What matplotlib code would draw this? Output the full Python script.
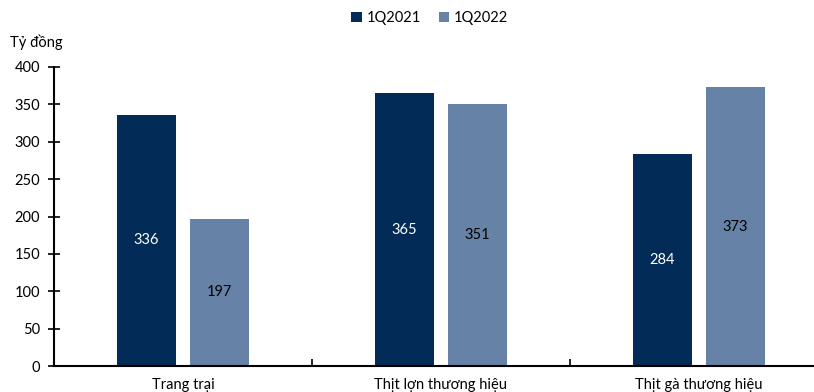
import numpy as np
import matplotlib
matplotlib.use("Agg")
import matplotlib.pyplot as plt
from matplotlib.ticker import FixedLocator

plt.rcParams['font.family'] = ['Lato', 'DejaVu Sans']

# ── data ─────────────────────────────────────────────
categories = ["Trang trại", "Thịt lợn thương hiệu", "Thịt gà thương hiệu"]
q2021 = [336, 365, 284]
q2022 = [197, 351, 373]
series_names = ["1Q2021", "1Q2022"]
dark = "#022c57"
light = "#6682a7"

fig = plt.figure(figsize=(8.14, 3.92), dpi=100)
ax = fig.add_axes([54 / 814, 26 / 392, 774 / 814, 299 / 392])

x = np.arange(len(categories)) + 0.5
w = 0.225
off = 0.1415
b1 = ax.bar(x - off, q2021, w, color=dark, label=series_names[0])
b2 = ax.bar(x + off, q2022, w, color=light, label=series_names[1])

# value labels in the middle of each bar
for rect, v in zip(b1, q2021):
    ax.text(rect.get_x() + rect.get_width() / 2, v / 2, str(v),
            ha="center", va="center", color="white", fontsize=10.5)
for rect, v in zip(b2, q2022):
    ax.text(rect.get_x() + rect.get_width() / 2, v / 2, str(v),
            ha="center", va="center", color="black", fontsize=10.5)

ax.set_xlim(0, 3)
ax.set_ylim(0, 400)
ax.set_yticks(range(0, 401, 50))
ax.set_xticks(x)
ax.set_xticklabels(categories, fontsize=10.5)
ax.xaxis.set_minor_locator(FixedLocator([1, 2]))
ax.tick_params(axis="x", which="major", length=0, pad=9)
ax.tick_params(axis="x", which="minor", direction="in", length=5, width=1.2)
ax.tick_params(axis="y", direction="inout", length=8, width=1.2, labelsize=10.5, pad=6)

for s in ["top", "right"]:
    ax.spines[s].set_visible(False)
ax.spines["left"].set_linewidth(1.5)
ax.spines["bottom"].set_linewidth(1.5)

fig.text(10 / 814, 1 - 42 / 392, "Tỷ đồng", fontsize=10.5, va="center", ha="left")

fig.legend(loc="center", bbox_to_anchor=(0.528, 1 - 18 / 392), ncol=2,
           frameon=False, fontsize=10.5, handlelength=0.75, handleheight=0.75,
           handletextpad=0.3, columnspacing=1.2)

fig.savefig("out.png", dpi=100)
